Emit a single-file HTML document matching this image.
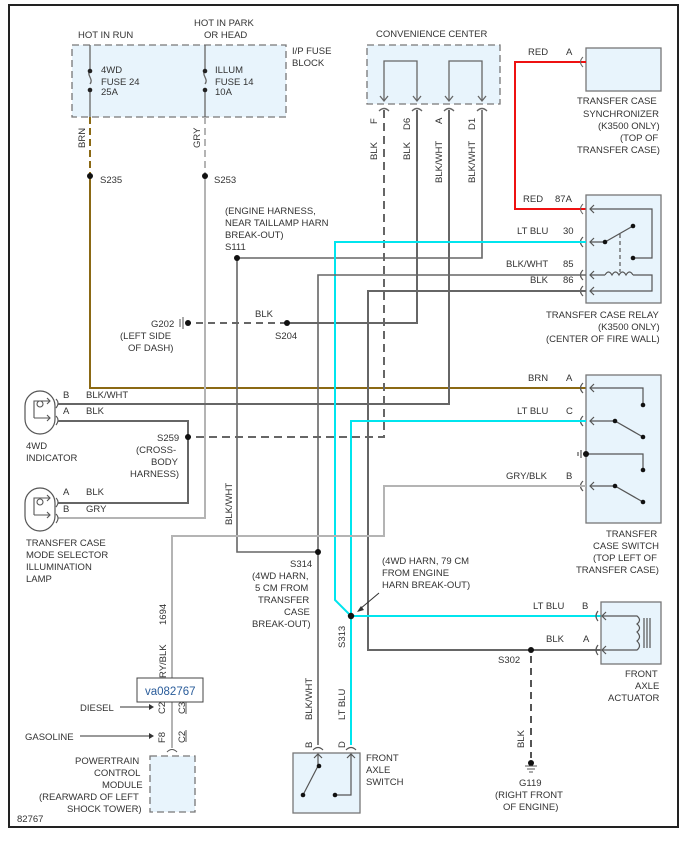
<!DOCTYPE html>
<html><head><meta charset="utf-8"><style>
html,body{margin:0;padding:0;background:#fff;}
svg{display:block;}
text{font-family:"Liberation Sans",sans-serif;font-size:9.5px;fill:#333;}
</style></head><body>
<svg width="698" height="850" viewBox="0 0 698 850" xmlns="http://www.w3.org/2000/svg">
<rect x="9" y="5" width="669" height="822" fill="#fff" stroke="#222" stroke-width="2"/>

<!-- fuse block -->
<rect x="72" y="45" width="214" height="72" fill="#e8f4fc" stroke="#777" stroke-dasharray="7,4" stroke-width="1.3"/>
<text x="78" y="38">HOT IN RUN</text>
<text x="194" y="26">HOT IN PARK</text>
<text x="204" y="38">OR HEAD</text>
<text x="292" y="54">I/P FUSE</text>
<text x="292" y="66">BLOCK</text>
<g stroke="#666" stroke-width="1.3" fill="none">
<path d="M90 45V70 M90 90V117 M90 71c-4 4 4 8 0 13 M205 45V70 M205 90V117 M205 71c-4 4 4 8 0 13"/>
</g>
<g fill="#222"><circle cx="90" cy="71" r="2.3"/><circle cx="90" cy="90" r="2.3"/><circle cx="205" cy="71" r="2.3"/><circle cx="205" cy="90" r="2.3"/></g>
<text x="101" y="73">4WD</text><text x="101" y="85">FUSE 24</text><text x="101" y="95">25A</text>
<text x="215" y="73">ILLUM</text><text x="215" y="85">FUSE 14</text><text x="215" y="95">10A</text>

<!-- BRN wire -->
<path d="M90 117V176" stroke="#8b6914" stroke-width="2" stroke-dasharray="7,4" fill="none"/>
<path d="M90 176V388H586" stroke="#8b6914" stroke-width="2" fill="none"/>
<text transform="translate(85,148) rotate(-90)">BRN</text>
<circle cx="90" cy="176" r="3" fill="#111"/><text x="100" y="183">S235</text>
<!-- GRY wire -->
<path d="M205 117V176" stroke="#b4b4b4" stroke-width="2" stroke-dasharray="7,4" fill="none"/>
<path d="M205 176V518H58" stroke="#b4b4b4" stroke-width="2" fill="none"/>
<text transform="translate(200,148) rotate(-90)">GRY</text>
<circle cx="205" cy="176" r="3" fill="#111"/><text x="214" y="183">S253</text>

<!-- convenience center -->
<text x="376" y="37">CONVENIENCE CENTER</text>
<rect x="367" y="45" width="133" height="59" fill="#e8f4fc" stroke="#777" stroke-dasharray="7,4" stroke-width="1.3"/>
<g stroke="#666" stroke-width="1.3" fill="none">
<path d="M384 100V61H417V100 M449 100V61H482V100"/>
<path d="M380 96l4 5 4-5 M413 96l4 5 4-5 M445 96l4 5 4-5 M478 96l4 5 4-5"/>
<path d="M379 111q5-5 10 0 M412 111q5-5 10 0 M444 111q5-5 10 0 M477 111q5-5 10 0"/>
</g>
<text transform="translate(377,124) rotate(-90)">F</text>
<text transform="translate(410,130) rotate(-90)">D6</text>
<text transform="translate(442,124) rotate(-90)">A</text>
<text transform="translate(475,130) rotate(-90)">D1</text>
<text transform="translate(377,160) rotate(-90)">BLK</text>
<text transform="translate(410,160) rotate(-90)">BLK</text>
<text transform="translate(442,183) rotate(-90)">BLK/WHT</text>
<text transform="translate(475,183) rotate(-90)">BLK/WHT</text>

<!-- wires from conv center -->
<path d="M384 110V437H188" stroke="#666" stroke-width="2" stroke-dasharray="8,5" fill="none"/>
<path d="M417 110V323H287" stroke="#666" stroke-width="2" fill="none"/>
<path d="M287 323H187" stroke="#666" stroke-width="2" stroke-dasharray="7,5" fill="none"/>
<path d="M449 110V404H58" stroke="#666" stroke-width="2" fill="none"/>
<path d="M482 110V258H237V552H318" stroke="#666" stroke-width="1.6" fill="none"/>

<!-- synchronizer -->
<rect x="586" y="48" width="75" height="43" fill="#e8f4fc" stroke="#777" stroke-width="1.3"/>
<path d="M586 62H515V209H586" stroke="#ee1111" stroke-width="2" fill="none"/>
<path d="M583 57q-5 5 0 10 M583 204q-5 5 0 10" stroke="#666" fill="none"/>
<text x="528" y="55">RED</text><text x="566" y="55">A</text>
<text x="577" y="104">TRANSFER CASE</text>
<text x="583" y="117">SYNCHRONIZER</text>
<text x="598" y="129">(K3500 ONLY)</text>
<text x="620" y="141">(TOP OF</text>
<text x="577" y="153">TRANSFER CASE)</text>

<!-- relay -->
<rect x="586" y="195" width="75" height="108" fill="#e8f4fc" stroke="#777" stroke-width="1.3"/>
<text x="523" y="202">RED</text><text x="555" y="202">87A</text>
<text x="517" y="234">LT BLU</text><text x="563" y="234">30</text>
<text x="506" y="267">BLK/WHT</text><text x="563" y="267">85</text>
<text x="530" y="283">BLK</text><text x="563" y="283">86</text>
<text x="546" y="318">TRANSFER CASE RELAY</text>
<text x="598" y="330">(K3500 ONLY)</text>
<text x="546" y="342">(CENTER OF FIRE WALL)</text>
<g stroke="#555" stroke-width="1.2" fill="none">
<path d="M583 237q-5 5 0 10 M583 270q-5 5 0 10 M583 286q-5 5 0 10"/>
<path d="M594 205l-4 4 4 4 M594 238l-4 4 4 4 M594 271l-4 4 4 4 M594 287l-4 4 4 4"/>
<path d="M590 209H652V258H633 M590 242H605L633 226 M590 275H605 M633 275H652V291H590"/>
<path d="M605 275q3.5-6 7 0q3.5-6 7 0q3.5-6 7 0q3.5-6 7 0"/>
<path d="M620 234V272" stroke-dasharray="4,3"/>
</g>
<g fill="#111"><circle cx="605" cy="242" r="2.3"/><circle cx="633" cy="226" r="2.3"/><circle cx="633" cy="258" r="2.3"/></g>

<!-- relay wires -->
<path d="M586 242H335V600L351 616" stroke="#00e5ee" stroke-width="2" fill="none"/>
<path d="M586 275H318V745" stroke="#666" stroke-width="1.6" fill="none"/>
<path d="M586 291H368V650H601" stroke="#666" stroke-width="2" fill="none"/>
<!-- S111 -->
<circle cx="237" cy="258" r="3" fill="#111"/>
<text x="225" y="214">(ENGINE HARNESS,</text>
<text x="225" y="226">NEAR TAILLAMP HARN</text>
<text x="225" y="238">BREAK-OUT)</text>
<text x="225" y="250">S111</text>

<!-- G202 / S204 -->
<text x="151" y="327">G202</text>
<path d="M180 319V327 M183 317V329" stroke="#555"/>
<circle cx="188" cy="323" r="3" fill="#111"/>
<text x="120" y="339">(LEFT SIDE</text><text x="128" y="351">OF DASH)</text>
<text x="255" y="317">BLK</text>
<circle cx="287" cy="323" r="3" fill="#111"/>
<text x="275" y="339">S204</text>

<!-- transfer case switch -->
<rect x="586" y="375" width="75" height="148" fill="#e8f4fc" stroke="#777" stroke-width="1.3"/>
<text x="528" y="381">BRN</text><text x="566" y="381">A</text>
<text x="517" y="414">LT BLU</text><text x="566" y="414">C</text>
<text x="506" y="479">GRY/BLK</text><text x="566" y="479">B</text>
<g stroke="#555" stroke-width="1.2" fill="none">
<path d="M583 383q-5 5 0 10 M583 416q-5 5 0 10 M583 481q-5 5 0 10"/>
<path d="M594 384l-4 4 4 4 M594 417l-4 4 4 4 M594 482l-4 4 4 4"/>
<path d="M590 388H643V405 M590 421H615L643 437 M586 454H643V470 M590 486H615L643 502 M578 452V456 M581 450V458"/>
</g>
<g fill="#111"><circle cx="643" cy="405" r="2.3"/><circle cx="615" cy="421" r="2.3"/><circle cx="643" cy="437" r="2.3"/><circle cx="586" cy="454" r="3"/><circle cx="643" cy="470" r="2.3"/><circle cx="615" cy="486" r="2.3"/><circle cx="643" cy="502" r="2.3"/></g>
<text x="606" y="537">TRANSFER</text>
<text x="593" y="549">CASE SWITCH</text>
<text x="593" y="561">(TOP LEFT OF</text>
<text x="576" y="573">TRANSFER CASE)</text>

<path d="M586 421H351V745" stroke="#00e5ee" stroke-width="2" fill="none"/>
<path d="M351 616H601" stroke="#00e5ee" stroke-width="2" fill="none"/>
<path d="M586 486H384V536H172V748" stroke="#b4b4b4" stroke-width="2" fill="none"/>

<!-- 4WD indicator -->
<rect x="25" y="391" width="30" height="43" rx="15" fill="#fff" stroke="#555" stroke-width="1.2"/>
<g stroke="#555" stroke-width="1.1" fill="none">
<path d="M34 418V401H50 M34 418H50 M47 398l3 3-3 3 M47 415l3 3-3 3 M56 399q4 4 0 9 M56 416q4 4 0 9"/>
<circle cx="40" cy="404" r="3"/>
</g>
<path d="M58 421H188V503H58" stroke="#666" stroke-width="2" fill="none"/>
<text x="63" y="398">B</text><text x="86" y="398">BLK/WHT</text>
<text x="63" y="414">A</text><text x="86" y="414">BLK</text>
<text x="26" y="449">4WD</text><text x="26" y="461">INDICATOR</text>
<circle cx="188" cy="437" r="3" fill="#111"/>
<text x="157" y="441">S259</text>
<text x="136" y="453">(CROSS-</text><text x="151" y="465">BODY</text><text x="130" y="477">HARNESS)</text>

<!-- selector lamp -->
<rect x="25" y="488" width="30" height="43" rx="15" fill="#fff" stroke="#555" stroke-width="1.2"/>
<g stroke="#555" stroke-width="1.1" fill="none">
<path d="M34 515V498H50 M34 515H50 M47 495l3 3-3 3 M47 512l3 3-3 3 M56 498q4 4 0 9 M56 514q4 4 0 9"/>
<circle cx="40" cy="502" r="3"/>
</g>
<text x="63" y="495">A</text><text x="86" y="495">BLK</text>
<text x="63" y="512">B</text><text x="86" y="512">GRY</text>
<text x="26" y="546">TRANSFER CASE</text><text x="26" y="558">MODE SELECTOR</text><text x="26" y="570">ILLUMINATION</text><text x="26" y="582">LAMP</text>

<text transform="translate(232,525) rotate(-90)">BLK/WHT</text>
<!-- S314 -->
<circle cx="318" cy="552" r="3" fill="#111"/>
<text x="290" y="567">S314</text>
<text x="252" y="579">(4WD HARN,</text>
<text x="255" y="591">5 CM FROM</text>
<text x="258" y="603">TRANSFER</text>
<text x="284" y="615">CASE</text>
<text x="252" y="627">BREAK-OUT)</text>
<!-- S313 -->
<circle cx="351" cy="616" r="3.2" fill="#111"/>
<text x="382" y="564">(4WD HARN, 79 CM</text>
<text x="382" y="576">FROM ENGINE</text>
<text x="382" y="588">HARN BREAK-OUT)</text>
<path d="M379 593L360 609" stroke="#333"/>
<path d="M357 612l7-2-3-4z" fill="#333"/>
<text transform="translate(345,648) rotate(-90)">S313</text>

<!-- actuator -->
<rect x="601" y="602" width="60" height="62" fill="#e8f4fc" stroke="#777" stroke-width="1.3"/>
<text x="533" y="609">LT BLU</text><text x="582" y="609">B</text>
<text x="546" y="642">BLK</text><text x="583" y="642">A</text>
<g stroke="#555" stroke-width="1.2" fill="none">
<path d="M598 611q-4 5 0 10 M598 645q-4 5 0 10 M606 612l-4 4 4 4 M606 646l-4 4 4 4"/>
<path d="M602 616H637q5 4 0 8q5 4 0 8q5 5 0 9q5 5 0 9H602 M644 618V648 M647 618V648 M650 618V648"/>
</g>
<text x="625" y="677">FRONT</text><text x="635" y="689">AXLE</text><text x="608" y="701">ACTUATOR</text>
<circle cx="531" cy="650" r="3" fill="#111"/>
<text x="498" y="663">S302</text>
<path d="M531 656V758" stroke="#555" stroke-width="2" stroke-dasharray="7,5" fill="none"/>
<text transform="translate(524,748) rotate(-90)">BLK</text>
<circle cx="531" cy="763" r="3" fill="#111"/>
<path d="M525 766H537 M527 769H535 M529 772H533" stroke="#555"/>
<text x="519" y="786">G119</text><text x="495" y="798">(RIGHT FRONT</text><text x="503" y="810">OF ENGINE)</text>

<!-- front axle switch -->
<rect x="293" y="753" width="67" height="60" fill="#e8f4fc" stroke="#777" stroke-width="1.3"/>
<text transform="translate(312,748) rotate(-90)">B</text>
<text transform="translate(345,748) rotate(-90)">D</text>
<text transform="translate(312,720) rotate(-90)">BLK/WHT</text>
<text transform="translate(345,720) rotate(-90)">LT BLU</text>
<g stroke="#555" stroke-width="1.2" fill="none">
<path d="M313 750q5-5 10 0 M346 750q5-5 10 0 M314 758l4-4 4 4 M347 758l4-4 4 4"/>
<path d="M318 754V766L303 795 M351 754V795H335"/>
</g>
<g fill="#111"><circle cx="319" cy="766" r="2.3"/><circle cx="303" cy="795" r="2.3"/><circle cx="335" cy="795" r="2.3"/></g>
<text x="366" y="761">FRONT</text><text x="366" y="773">AXLE</text><text x="366" y="785">SWITCH</text>

<!-- PCM -->
<text transform="translate(166,625) rotate(-90)">1694</text>
<text transform="translate(166,678) rotate(-90)">RY/BLK</text>
<rect x="137" y="678" width="66" height="24" fill="#fff" stroke="#444" stroke-width="1"/>
<text x="145" y="695" style="font-size:11.5px;fill:#2a5c9a">va082767</text>
<text x="80" y="711">DIESEL</text>
<path d="M120 707H150" stroke="#333"/><path d="M154 707l-5-3v6z" fill="#333"/>
<text x="25" y="740">GASOLINE</text>
<path d="M80 736H150" stroke="#333"/><path d="M154 736l-5-3v6z" fill="#333"/>
<text transform="translate(165,714) rotate(-90)">C2</text>
<text transform="translate(185,714) rotate(-90)">C3</text>
<text transform="translate(165,743) rotate(-90)">F8</text>
<text transform="translate(185,743) rotate(-90)">C2</text>
<path d="M186 702V714 M186 730V742" stroke="#555"/>
<path d="M167 752q5-5 10 0" stroke="#555" fill="none"/>
<rect x="150" y="756" width="45" height="56" fill="#e8f4fc" stroke="#777" stroke-dasharray="7,4" stroke-width="1.3"/>
<text x="75" y="764">POWERTRAIN</text><text x="94" y="776">CONTROL</text><text x="102" y="788">MODULE</text>
<text x="39" y="800">(REARWARD OF LEFT</text><text x="67" y="812">SHOCK TOWER)</text>
<text x="17" y="822">82767</text>
</svg>
</body></html>
